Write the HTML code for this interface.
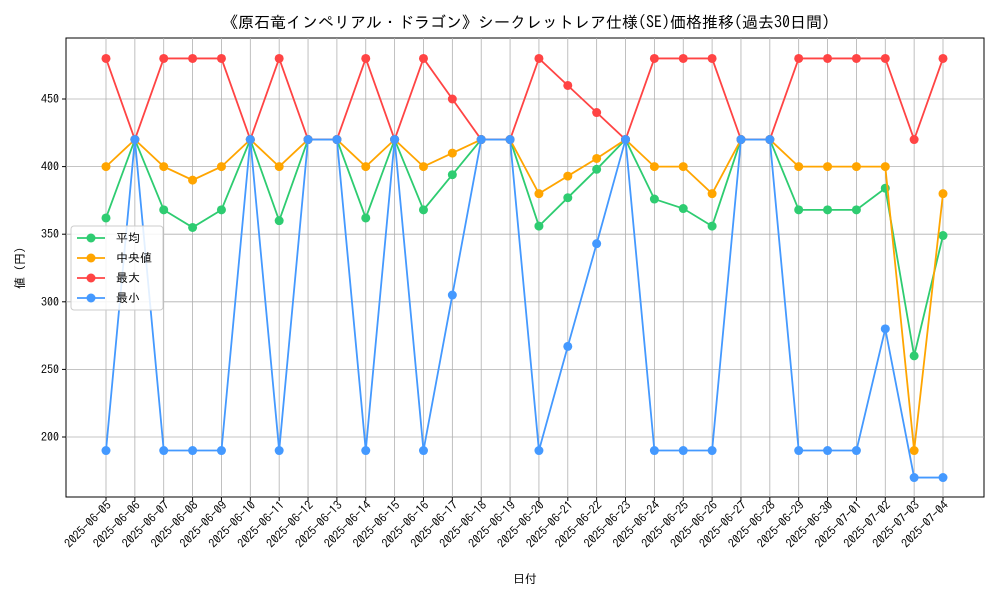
<!DOCTYPE html>
<html><head><meta charset="utf-8"><style>
body{margin:0;background:#fff;font-family:"IPAGothic","Noto Sans CJK JP",sans-serif;}
svg text{font-family:"IPAGothic","Noto Sans CJK JP",sans-serif;}
</style></head><body>
<svg id="chart" width="1000" height="600">
<text x="526" y="28" text-anchor="middle" font-size="16">《原石竜インペリアル・ドラゴン》シークレットレア仕様(SE)価格推移(過去30日間)</text>
<rect x="66" y="38" width="918" height="459" fill="none" stroke="#000"/>
<g id="grid"></g><g id="series"></g><g id="axes"></g>
<text x="525" y="583" text-anchor="middle" font-size="12">日付</text>
<text transform="translate(24,268) rotate(-90)" text-anchor="middle" font-size="12">値 (円)</text>
<g id="legend"></g>
</svg>
<script>
const dates=["2025-06-05","2025-06-06","2025-06-07","2025-06-08","2025-06-09","2025-06-10","2025-06-11","2025-06-12","2025-06-13","2025-06-14","2025-06-15","2025-06-16","2025-06-17","2025-06-18","2025-06-19","2025-06-20","2025-06-21","2025-06-22","2025-06-23","2025-06-24","2025-06-25","2025-06-26","2025-06-27","2025-06-28","2025-06-29","2025-06-30","2025-07-01","2025-07-02","2025-07-03","2025-07-04"];
const meanVals=[362,420,368,355,368,420,360,420,420,362,420,368,394,420,420,356,377,398,420,376,369,356,420,420,368,368,368,384,260,349];
const medianVals=[400,420,400,390,400,420,400,420,420,400,420,400,410,420,420,380,393,406,420,400,400,380,420,420,400,400,400,400,190,380];
const maxVals=[480,420,480,480,480,420,480,420,420,480,420,480,450,420,420,480,460,440,420,480,480,480,420,420,480,480,480,480,420,480];
const minVals=[190,420,190,190,190,420,190,420,420,190,420,190,305,420,420,190,267,343,420,190,190,190,420,420,190,190,190,280,170,170];
const yTicks=[200,250,300,350,400,450];
const seriesNames=["平均","中央値","最大","最小"];
const NS="http://www.w3.org/2000/svg";
const X=i=>106+i*(837/(dates.length-1));
const Y=v=>437-(v-200)*(67.6/50);
function mk(tag,attrs,parent){const e=document.createElementNS(NS,tag);for(const k in attrs)e.setAttribute(k,attrs[k]);parent.appendChild(e);return e;}
const grid=document.getElementById('grid'),axes=document.getElementById('axes'),ser=document.getElementById('series');
dates.forEach((d,i)=>{
 const l=mk('line',{x1:X(i),x2:X(i),y1:38,y2:497,stroke:'#b0b0b0','stroke-width':0.8},grid);
 
 
 mk('line',{x1:X(i),x2:X(i),y1:497,y2:501,stroke:'#000'},axes);
 const ax=X(i)+6, ay=506;
 const t=mk('text',{x:ax,y:ay,'font-size':12,'text-anchor':'end',transform:`rotate(-45 ${ax} ${ay})`},axes);
 t.textContent=d;
 
 
});
yTicks.forEach(v=>{
 const l=mk('line',{x1:66,x2:984,y1:Y(v),y2:Y(v),stroke:'#b0b0b0','stroke-width':0.8},grid);
 
 
 mk('line',{x1:62,x2:66,y1:Y(v),y2:Y(v),stroke:'#000'},axes);
 const t=mk('text',{x:59,y:Y(v)+4,'font-size':12,'text-anchor':'end'},axes);
 t.textContent=v;
 
 
});
const all=[meanVals,medianVals,maxVals,minVals];
const colors=["#2ecc71","#ffa500","#ff4444","#4499ff"];
const keys=["mean","median","max","min"];
all.forEach((vals,s)=>{
 const g=mk('g',{},ser);
 
 
 const p=mk('polyline',{points:vals.map((v,i)=>X(i)+','+Y(v)).join(' '),fill:'none',stroke:colors[s],'stroke-width':1.8},g);
 
 
 vals.forEach((v,i)=>{
  const c=mk('circle',{cx:X(i),cy:Y(v),r:4.5,fill:colors[s]},g);
  
  
 });
});
const lg=document.getElementById('legend');
mk('rect',{x:71,y:226,width:92,height:84,rx:3,fill:'#fff','fill-opacity':0.85,stroke:'#ccc'},lg);
seriesNames.forEach((n,s)=>{
 const y=238+s*20;
 const g=mk('g',{},lg);
 
 
 mk('line',{x1:77,x2:105,y1:y,y2:y,stroke:colors[s],'stroke-width':1.8},g);
 mk('circle',{cx:91,cy:y,r:4.5,fill:colors[s]},g);
 const t=mk('text',{x:116,y:y+4,'font-size':12},g);
 t.textContent=n;
});
</script>
</body></html>
